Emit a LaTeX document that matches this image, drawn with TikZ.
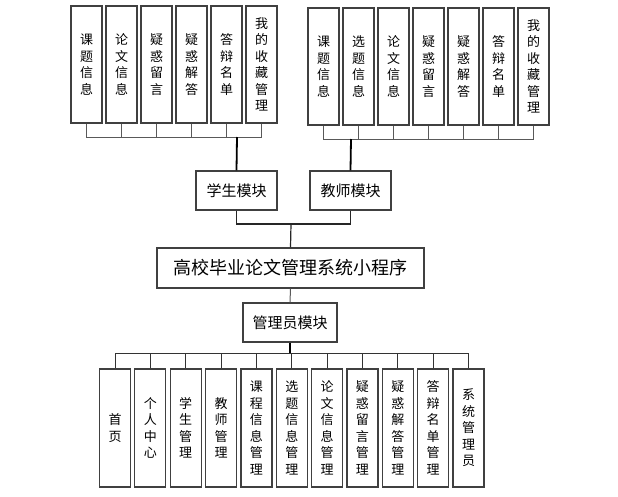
\documentclass[tikz,border=0pt]{standalone}
\usepackage{fontspec}
\newfontfamily\cjk{Noto Sans CJK SC}
\begin{document}
\begin{tikzpicture}[x=1pt,y=-1pt]
\tikzset{
 box/.style={draw=black!75, line width=1.2pt, fill=white, inner sep=0pt},
 vbox/.style={box, minimum width=31pt, minimum height=117pt, align=center, font=\cjk\fontsize{13}{16.5}\selectfont},
 mbox/.style={box, minimum width=81pt, minimum height=39pt, font=\cjk\fontsize{15}{18}\selectfont},
 branch/.style={draw=black!65, line width=1pt},
 trunk/.style={draw=black, line width=1.8pt},
}
\useasboundingbox (0,0) rectangle (618,496);
% student leaves
\foreach \i/\t in {1/{课\\题\\信\\息},2/{论\\文\\信\\息},3/{疑\\惑\\留\\言},4/{疑\\惑\\解\\答},5/{答\\辩\\名\\单},6/{我\\的\\收\\藏\\管\\理}}{
  \node[vbox] (s\i) at ({86.5+35*(\i-1)},64.5) {\t};
}
% teacher leaves
\foreach \i/\t in {1/{课\\题\\信\\息},2/{选\\题\\信\\息},3/{论\\文\\信\\息},4/{疑\\惑\\留\\言},5/{疑\\惑\\解\\答},6/{答\\辩\\名\\单},7/{我\\的\\收\\藏\\管\\理}}{
  \node[vbox] (t\i) at ({323.5+35*(\i-1)},66.5) {\t};
}
\node[mbox] (stu) at (236.5,190.5) {学生模块};
\node[mbox] (tea) at (350.5,190.5) {教师模块};
\node[box, minimum width=267pt, minimum height=40pt, font=\cjk\fontsize{18}{20}\selectfont] (main) at (290.5,268) {高校毕业论文管理系统小程序};
\node[box, minimum width=94pt, minimum height=39pt, font=\cjk\fontsize{15}{18}\selectfont] (adm) at (290,322.5) {管理员模块};
% admin leaves
\foreach \i/\t in {1/{首\\页},2/{个\\人\\中\\心},3/{学\\生\\管\\理},4/{教\\师\\管\\理},5/{课\\程\\信\\息\\管\\理},6/{选\\题\\信\\息\\管\\理},7/{论\\文\\信\\息\\管\\理},8/{疑\\惑\\留\\言\\管\\理},9/{疑\\惑\\解\\答\\管\\理},10/{答\\辩\\名\\单\\管\\理},11/{系\\统\\管\\理\\员}}{
  \node[vbox, minimum height=118pt] (b\i) at ({115+35.35*(\i-1)},428) {\t};
}
% junctions
\coordinate (sj) at (237,137);
\coordinate (tj) at (351,139);
\coordinate (mj) at (291,224);
\coordinate (aj) at (290,353);
\foreach \i in {1,...,6}{ \draw[branch] (s\i.south) |- (sj); }
\foreach \i in {1,...,7}{ \draw[branch] (t\i.south) |- (tj); }
\draw[trunk] (sj) -- (stu.north);
\draw[trunk] (tj) -- (tea.north);
\draw[branch, draw=black!85, line width=1.2pt] (stu.south) |- (mj);
\draw[branch, draw=black!85, line width=1.2pt] (tea.south) |- (mj);
\draw[branch, draw=black!85, line width=1.2pt] (mj) -- (main.north);
\draw[branch] (main.south) -- (adm.north);
\foreach \i in {1,...,11}{ \draw[branch, draw=black!80] (b\i.north) |- (aj); }
\draw[trunk] (adm.south) -- (aj);
\end{tikzpicture}
\end{document}
